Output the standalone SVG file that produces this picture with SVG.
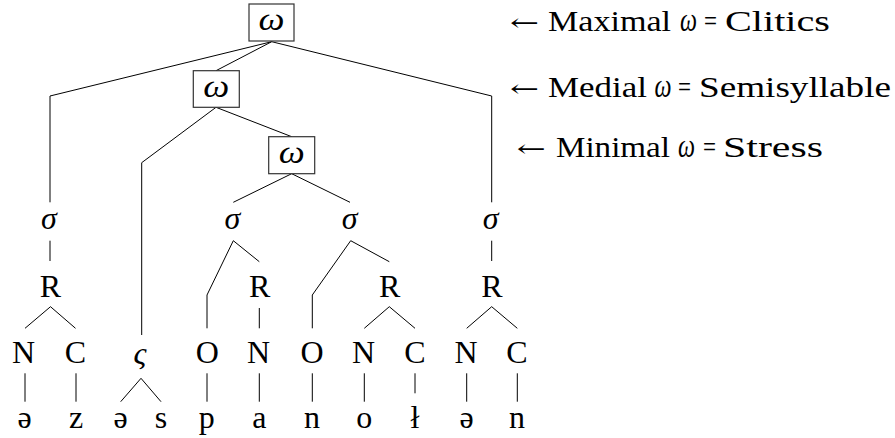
<svg xmlns="http://www.w3.org/2000/svg" width="895" height="438" viewBox="0 0 895 438">
<style>
.t{font-family:"Liberation Serif","Times New Roman",serif;font-size:32px;fill:#000;text-anchor:middle}
.i{font-style:italic}
.lbl{font-family:"Liberation Serif","Times New Roman",serif;font-size:29px;fill:#000}
.w{font-style:italic;font-size:33px}
.ar{font-family:"DejaVu Serif","DejaVu Sans",serif;font-size:24px}
.box{fill:#fff;stroke:#333;stroke-width:1.2}
.ln{fill:none;stroke:#000;stroke-width:1}
</style>
<rect width="895" height="438" fill="#fff"/>
<g id="connectors">
<polyline class="ln" points="271.7,41.7 50,96 50,202.3"/>
<polyline class="ln" points="271.7,41.7 216,70.7"/>
<polyline class="ln" points="271.7,41.7 491.7,96 491.7,202.3"/>
<polyline class="ln" points="216,107.3 141.7,162.7 141.7,335"/>
<polyline class="ln" points="216,107.3 291.7,136.7"/>
<polyline class="ln" points="291.7,173.7 233.3,202.3"/>
<polyline class="ln" points="291.7,173.7 350,202.3"/>
<polyline class="ln" points="50,240.7 50,261"/>
<polyline class="ln" points="233.3,240.7 207,295 207,328.3"/>
<polyline class="ln" points="233.3,240.7 259.3,261.7"/>
<polyline class="ln" points="350.7,240.7 312.3,295 312.3,328.3"/>
<polyline class="ln" points="350.7,240.7 389.3,261.7"/>
<polyline class="ln" points="491.7,240.7 491.7,261"/>
<polyline class="ln" points="25,328.3 50.5,306.7 75.5,328.3"/>
<polyline class="ln" points="259.3,308 259.3,328.3"/>
<polyline class="ln" points="364.3,328.3 389.3,306.7 415,328.3"/>
<polyline class="ln" points="466.7,328.3 491.7,306.7 517.3,328.3"/>
<polyline class="ln" points="120.7,401.7 141,378.3 161,401.7"/>
<line class="ln" x1="25" y1="373.3" x2="25" y2="401.7"/>
<line class="ln" x1="76" y1="373.3" x2="76" y2="401.7"/>
<line class="ln" x1="207" y1="373.3" x2="207" y2="401.7"/>
<line class="ln" x1="259.3" y1="373.3" x2="259.3" y2="401.7"/>
<line class="ln" x1="312.3" y1="373.3" x2="312.3" y2="401.7"/>
<line class="ln" x1="364.3" y1="373.3" x2="364.3" y2="401.7"/>
<line class="ln" x1="415" y1="373.3" x2="415" y2="393.3"/>
<line class="ln" x1="466.7" y1="373.3" x2="466.7" y2="401.7"/>
<line class="ln" x1="517.3" y1="373.3" x2="517.3" y2="401.7"/>
</g>
<g id="omega-max"><rect class="box" x="249" y="4" width="45" height="37"/><text class="t i" x="271.5" y="30" textLength="26" lengthAdjust="spacingAndGlyphs">ω</text></g>
<g id="omega-med"><rect class="box" x="193.3" y="70.7" width="46" height="36.6"/><text class="t i" x="216.3" y="96.5" textLength="26" lengthAdjust="spacingAndGlyphs">ω</text></g>
<g id="omega-min"><rect class="box" x="268.7" y="136.7" width="46" height="37"/><text class="t i" x="291.7" y="163" textLength="26" lengthAdjust="spacingAndGlyphs">ω</text></g>
<g id="sigma1"><text class="t i" x="49" y="229">σ</text></g>
<g id="sigma2"><text class="t i" x="232.3" y="229">σ</text></g>
<g id="sigma3"><text class="t i" x="349.7" y="229">σ</text></g>
<g id="sigma4"><text class="t i" x="490.7" y="229">σ</text></g>
<g id="R1"><text class="t" x="50.5" y="296.7">R</text></g>
<g id="R2"><text class="t" x="259.7" y="296.7">R</text></g>
<g id="R3"><text class="t" x="389.7" y="296.7">R</text></g>
<g id="R4"><text class="t" x="492" y="296.7">R</text></g>
<g id="N1"><text class="t" x="23.5" y="363">N</text></g>
<g id="C1"><text class="t" x="75.5" y="363">C</text></g>
<g id="vs"><text class="t i" x="140" y="364">ς</text></g>
<g id="O2"><text class="t" x="207.3" y="363">O</text></g>
<g id="N2"><text class="t" x="258.5" y="363">N</text></g>
<g id="O3"><text class="t" x="312" y="363">O</text></g>
<g id="N3"><text class="t" x="363.5" y="363">N</text></g>
<g id="C3"><text class="t" x="415" y="363">C</text></g>
<g id="N4"><text class="t" x="466" y="363">N</text></g>
<g id="C4"><text class="t" x="517" y="363">C</text></g>
<g id="s1"><text class="t" x="24.5" y="428">ə</text></g>
<g id="s2"><text class="t" x="76" y="428">z</text></g>
<g id="s3"><text class="t" x="120.7" y="428">ə</text></g>
<g id="s4"><text class="t" x="161" y="428">s</text></g>
<g id="s5"><text class="t" x="206.7" y="428">p</text></g>
<g id="s6"><text class="t" x="259.3" y="428">a</text></g>
<g id="s7"><text class="t" x="312" y="428">n</text></g>
<g id="s8"><text class="t" x="364.3" y="428">o</text></g>
<g id="s9"><text class="t" x="415" y="428">ł</text></g>
<g id="s10"><text class="t" x="466.7" y="428">ə</text></g>
<g id="s11"><text class="t" x="517" y="428">n</text></g>
<g id="label-max"><text class="lbl" y="30.7"><tspan x="510" class="ar" textLength="29" lengthAdjust="spacingAndGlyphs">←</tspan> <tspan x="548" textLength="123" lengthAdjust="spacingAndGlyphs">Maximal</tspan> <tspan x="680" class="w" textLength="17" lengthAdjust="spacingAndGlyphs">ω</tspan> <tspan x="704" textLength="13" lengthAdjust="spacingAndGlyphs">=</tspan> <tspan x="725" textLength="105" lengthAdjust="spacingAndGlyphs">Clitics</tspan></text></g>
<g id="label-med"><text class="lbl" y="96.7"><tspan x="510" class="ar" textLength="29" lengthAdjust="spacingAndGlyphs">←</tspan> <tspan x="548" textLength="99" lengthAdjust="spacingAndGlyphs">Medial</tspan> <tspan x="654.5" class="w" textLength="17" lengthAdjust="spacingAndGlyphs">ω</tspan> <tspan x="678" textLength="13" lengthAdjust="spacingAndGlyphs">=</tspan> <tspan x="699" textLength="192" lengthAdjust="spacingAndGlyphs">Semisyllable</tspan></text></g>
<g id="label-min"><text class="lbl" y="156.5"><tspan x="516.7" class="ar" textLength="29" lengthAdjust="spacingAndGlyphs">←</tspan> <tspan x="556" textLength="114" lengthAdjust="spacingAndGlyphs">Minimal</tspan> <tspan x="678" class="w" textLength="17" lengthAdjust="spacingAndGlyphs">ω</tspan> <tspan x="703" textLength="13" lengthAdjust="spacingAndGlyphs">=</tspan> <tspan x="723" textLength="100" lengthAdjust="spacingAndGlyphs">Stress</tspan></text></g>
</svg>
